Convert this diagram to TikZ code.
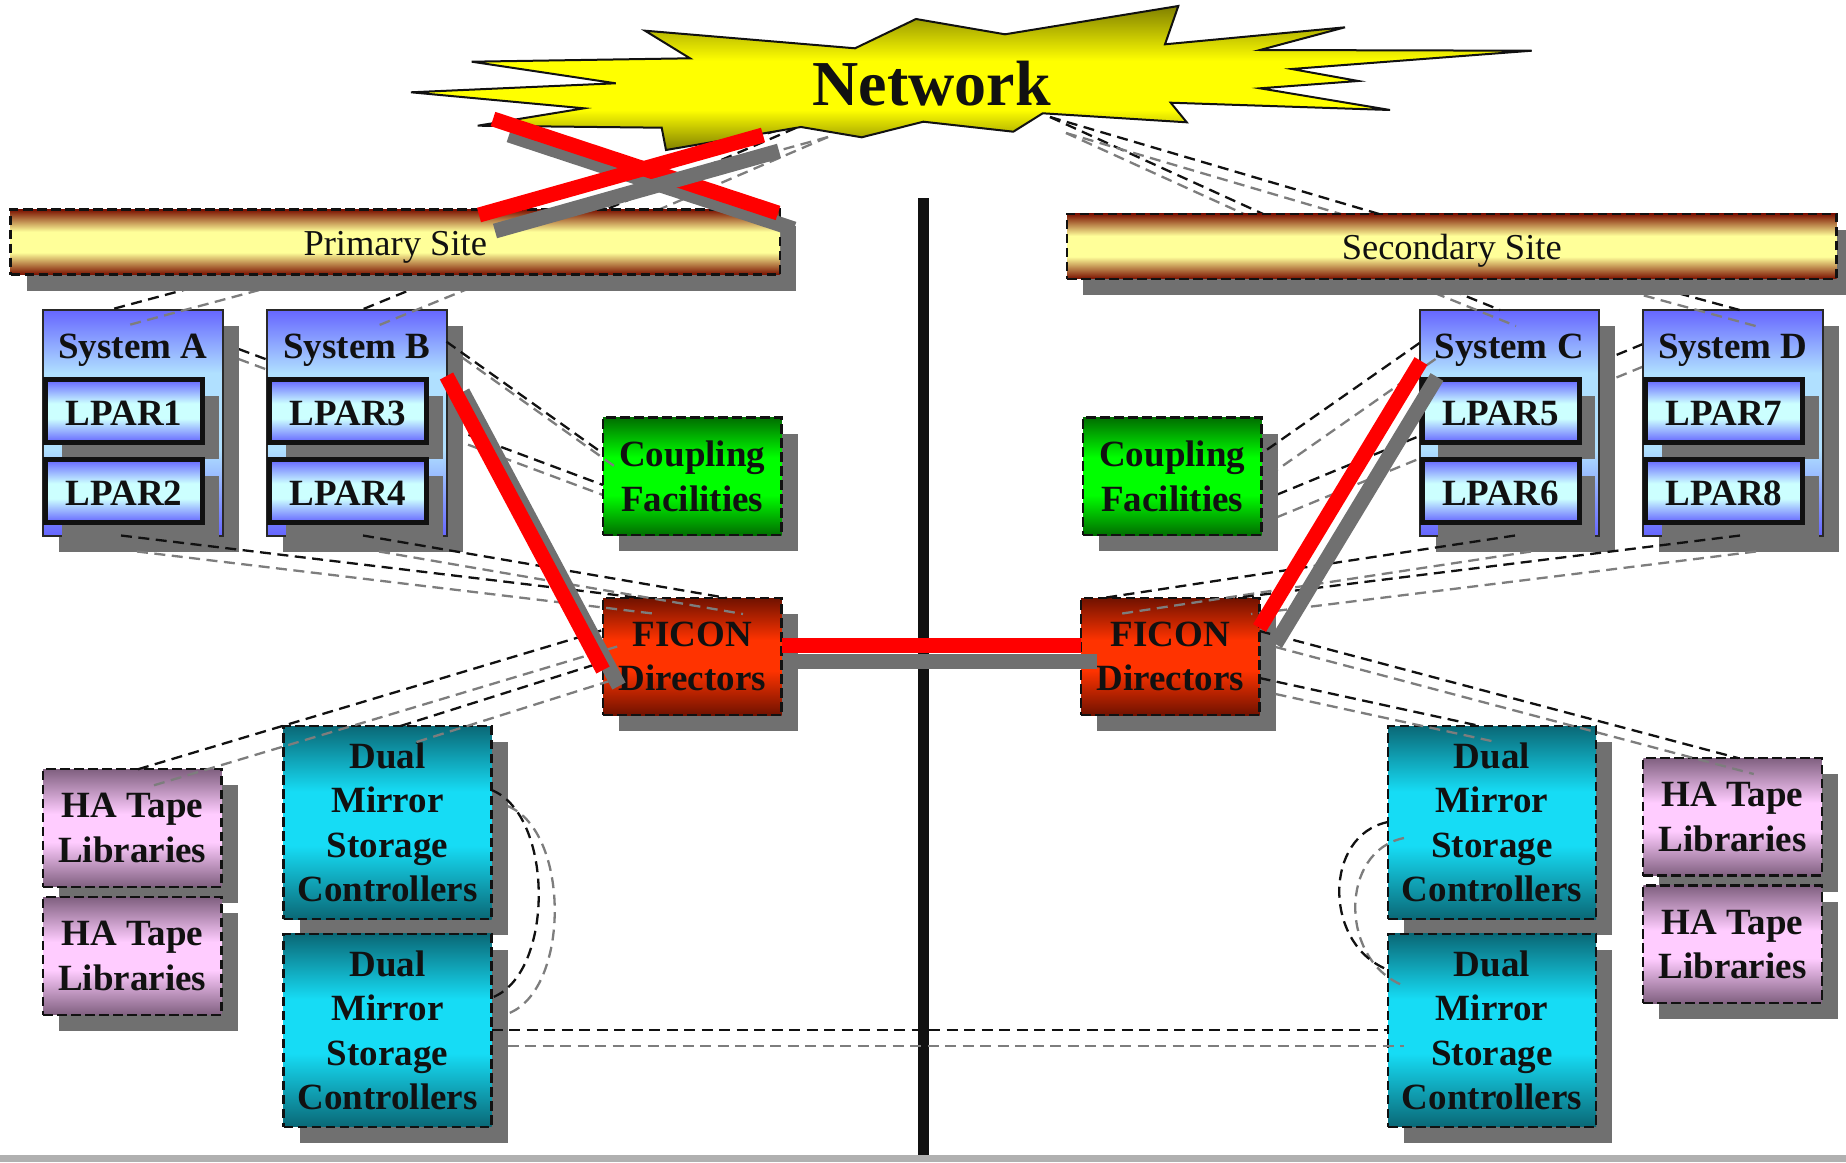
\documentclass[tikz,border=0pt]{standalone}
\usepackage{fontspec}
\setmainfont{Liberation Serif}
\usetikzlibrary{calc,shadows}
\definecolor{sysblue}{RGB}{102,102,255}
\definecolor{syslight}{RGB}{176,224,255}
\definecolor{lparblue}{RGB}{100,100,255}
\definecolor{lparlight}{RGB}{204,255,255}
\definecolor{cfdark}{RGB}{0,110,0}
\definecolor{cfbright}{RGB}{0,255,0}
\definecolor{ficondark}{RGB}{112,18,0}
\definecolor{ficonbright}{RGB}{255,51,0}
\definecolor{dmscdark}{RGB}{10,104,118}
\definecolor{dmscbright}{RGB}{22,220,245}
\definecolor{hadark}{RGB}{128,96,128}
\definecolor{halight}{RGB}{255,204,255}
\definecolor{sitedark}{RGB}{122,16,0}
\definecolor{sitelight}{RGB}{255,255,153}
\definecolor{stardark}{RGB}{128,128,0}
\definecolor{staryellow}{RGB}{255,255,0}
\definecolor{shadowgray}{RGB}{112,112,112}
\definecolor{lgray}{RGB}{125,125,125}
\definecolor{ink}{RGB}{17,17,17}
\definecolor{bandgray}{RGB}{176,176,176}
\pgfdeclareverticalshading{sysshade}{100bp}{color(0bp)=(sysblue); color(25bp)=(sysblue); color(44bp)=(syslight); color(61bp)=(syslight); color(75bp)=(sysblue); color(100bp)=(sysblue)}
\pgfdeclareverticalshading{lparshade}{100bp}{color(0bp)=(lparblue); color(25bp)=(lparblue); color(44bp)=(lparlight); color(56bp)=(lparlight); color(75bp)=(lparblue); color(100bp)=(lparblue)}
\pgfdeclareverticalshading{cfshade}{100bp}{color(0bp)=(cfdark); color(25bp)=(cfdark); color(42bp)=(cfbright); color(58bp)=(cfbright); color(75bp)=(cfdark); color(100bp)=(cfdark)}
\pgfdeclareverticalshading{ficonshade}{100bp}{color(0bp)=(ficondark); color(25bp)=(ficondark); color(44bp)=(ficonbright); color(57bp)=(ficonbright); color(75bp)=(ficondark); color(100bp)=(ficondark)}
\pgfdeclareverticalshading{dmscshade}{100bp}{color(0bp)=(dmscdark); color(25bp)=(dmscdark); color(44bp)=(dmscbright); color(58bp)=(dmscbright); color(75bp)=(dmscdark); color(100bp)=(dmscdark)}
\pgfdeclareverticalshading{hashade}{100bp}{color(0bp)=(hadark); color(25bp)=(hadark); color(44bp)=(halight); color(56bp)=(halight); color(75bp)=(hadark); color(100bp)=(hadark)}
\pgfdeclareverticalshading{siteshade}{100bp}{color(0bp)=(sitedark); color(25bp)=(sitedark); color(42bp)=(sitelight); color(58bp)=(sitelight); color(75bp)=(sitedark); color(100bp)=(sitedark)}
\pgfdeclareverticalshading{starshade}{100bp}{color(0bp)=(stardark); color(25bp)=(stardark); color(39bp)=(staryellow); color(56bp)=(staryellow); color(75bp)=(stardark); color(100bp)=(stardark)}
\pgfdeclarelayer{lnet}
\pgfdeclarelayer{lstar}
\pgfdeclarelayer{lbehind}
\pgfdeclarelayer{lconn}
\pgfdeclarelayer{lsite}
\pgfdeclarelayer{lred}
\pgfdeclarelayer{ltop}
\pgfsetlayers{lnet,lstar,lbehind,main,lconn,lsite,lred,ltop}
\newcommand\myconn[2]{\draw[lshadow] ([shift={(16,16)}]#1) -- ([shift={(16,16)}]#2); \draw[lblack] (#1) -- (#2);}
\newcommand\myredline[2]{\draw[rshadow] ([shift={(16,16)}]#1) -- ([shift={(16,16)}]#2); \draw[rline] (#1) -- (#2);}
\begin{document}
\begin{tikzpicture}[x=1pt,y=-1pt,
  shadowed/.style={drop shadow={shadow xshift=16pt,shadow yshift=-16pt,fill=shadowgray,opacity=1}},
  boldtxt/.style={text=ink,font=\fontsize{37}{44.5}\selectfont\bfseries},
  dbox/.style={shadowed,shade,draw=ink,line width=2.2pt,dash pattern=on 9.5pt off 4.5pt,inner sep=0pt,outer sep=0pt,align=center,boldtxt},
  sysbox/.style={shadowed,shade,shading=sysshade,draw=ink!90,line width=2pt,inner sep=0pt,outer sep=0pt,minimum width=179.5pt,minimum height=225.5pt},
  sysedge/.style={draw=ink!90,line width=2pt},
  lparbox/.style={shadowed,shade,shading=lparshade,draw=ink,line width=5pt,inner sep=0pt,outer sep=0pt,minimum width=157pt,minimum height=63pt,boldtxt,text height=29.5pt,text depth=0pt},
  sitebox/.style={dbox,shading=siteshade,minimum width=769.5pt,minimum height=65pt},
  cfbox/.style={dbox,shading=cfshade,minimum width=178.5pt,minimum height=117.5pt},
  ficonbox/.style={dbox,shading=ficonshade,minimum width=178.5pt,minimum height=117pt},
  dmscbox/.style={dbox,shading=dmscshade,minimum width=208pt,minimum height=193pt},
  habox/.style={dbox,shading=hashade,minimum width=178.5pt,minimum height=117.5pt},
  syslabel/.style={anchor=base,inner sep=0pt,boldtxt},
  sitelabel/.style={anchor=base,inner sep=0pt,text=ink,font=\fontsize{36.5}{40}\selectfont},
  lblack/.style={draw=ink,line width=2.3pt,dash pattern=on 11pt off 6.5pt},
  lshadow/.style={draw=lgray,line width=2.3pt,dash pattern=on 11pt off 6.5pt},
  rline/.style={draw=red,line width=15pt},
  rshadow/.style={draw=shadowgray,line width=15pt}
]
\useasboundingbox (0,0) rectangle (1846,1162);

% ---------- site bars ----------
\begin{pgfonlayer}{lsite}
\node[sitebox] (primary) at (395.25,242) {};
\node[sitebox] (secondary) at (1451.75,246.25) {};
\node[sitelabel] (tPrim) at (395.25,255) {Primary Site};
\node[sitelabel] (tSec) at (1451.75,259.3) {Secondary Site};
\end{pgfonlayer}

% ---------- boxes ----------
\node[sysbox] (sysA) at (132.75,422.75) {};
\node[lparbox] (lpar1) at (124,411) {LPAR1};
\node[lparbox] (lpar2) at (124,491) {LPAR2};
\draw[sysedge] (sysA.north east) -- (sysA.south east);
\node[syslabel] (tA) at (132.75,358.3) {System A};

\node[sysbox] (sysB) at (356.75,422.75) {};
\node[lparbox] (lpar3) at (348,411) {LPAR3};
\node[lparbox] (lpar4) at (348,491) {LPAR4};
\draw[sysedge] (sysB.north east) -- (sysB.south east);
\node[syslabel] (tB) at (356.75,358.3) {System B};

\node[sysbox] (sysC) at (1509.25,422.75) {};
\node[lparbox] (lpar5) at (1500.5,411) {LPAR5};
\node[lparbox] (lpar6) at (1500.5,491) {LPAR6};
\draw[sysedge] (sysC.north east) -- (sysC.south east);
\node[syslabel] (tC) at (1509.25,358.3) {System C};

\node[sysbox] (sysD) at (1732.75,422.75) {};
\node[lparbox] (lpar7) at (1724,411) {LPAR7};
\node[lparbox] (lpar8) at (1724,491) {LPAR8};
\draw[sysedge] (sysD.north east) -- (sysD.south east);
\node[syslabel] (tD) at (1732.75,358.3) {System D};

\node[cfbox] (cfL) at (692.25,476.25) {Coupling\\Facilities};
\node[cfbox] (cfR) at (1172.25,476.25) {Coupling\\Facilities};
\node[ficonbox] (ficonL) at (692.25,656.5) {FICON\\Directors};
\node[ficonbox] (ficonR) at (1170.25,656.5) {FICON\\Directors};

\node[dmscbox] (dmsc1L) at (387.5,822.5) {Dual\\Mirror\\Storage\\Controllers};
\node[dmscbox] (dmsc2L) at (387.5,1030.25) {Dual\\Mirror\\Storage\\Controllers};
\node[dmscbox] (dmsc1R) at (1492,822.5) {Dual\\Mirror\\Storage\\Controllers};
\node[dmscbox] (dmsc2R) at (1492,1030.25) {Dual\\Mirror\\Storage\\Controllers};

\node[habox] (ha1L) at (132.25,828) {HA Tape\\Libraries};
\node[habox] (ha2L) at (132.25,956) {HA Tape\\Libraries};
\node[habox] (ha1R) at (1732.5,816.75) {HA Tape\\Libraries};
\node[habox] (ha2R) at (1732.5,944.25) {HA Tape\\Libraries};

% ---------- network star ----------
\begin{pgfonlayer}{lstar}
\shadedraw[shading=starshade,draw=ink,line width=2pt]
  (411,92.3) -- (615.7,83.3) -- (471.7,61.7) -- (690,58.3) -- (645,30.7) -- (855,48.3)
  -- (916,19) -- (1005,34.3) -- (1178.3,6) -- (1165,44.3) -- (1345,27.3) -- (1260,50)
  -- (1531.7,50.7) -- (1291.7,69) -- (1358.3,81) -- (1260,88.3) -- (1390,110)
  -- (1170.7,102.7) -- (1186.7,122.3) -- (1042.7,113.3) -- (1013.3,131.7) -- (923.3,121.7)
  -- (861.7,137.3) -- (801,127) -- (666,150) -- (661.7,127.7) -- (477.7,125.7) -- (584,108.3) -- cycle;
\node[anchor=base,inner sep=0pt,text=ink,font=\fontsize{64}{70}\selectfont\bfseries] (tNet) at (931.7,105) {Network};
\end{pgfonlayer}

% ---------- coordinates ----------
\coordinate (netL) at (812,121);
\coordinate (netR) at (1050,117);
\coordinate (pN1) at ($(primary.north west)+(588.5,3)$);
\coordinate (pN2) at ($(primary.north west)+(469.5,3)$);
\coordinate (sN1) at ($(secondary.north west)+(200,2)$);
\coordinate (sN2) at ($(secondary.north west)+(318,2)$);

\coordinate (pS1) at ($(primary.south west)+(266.5,-9.5)$);
\coordinate (sA) at ($(sysA.north west)+(66,0)$);
\coordinate (pS2) at ($(primary.south west)+(460.5,-9.5)$);
\coordinate (sB) at ($(sysB.north west)+(94,0)$);
\coordinate (sS1) at ($(secondary.south west)+(335,-8.5)$);
\coordinate (sC) at ($(sysC.north west)+(80.5,0)$);
\coordinate (sS2) at ($(secondary.south west)+(527,-8.5)$);
\coordinate (sD) at ($(sysD.north west)+(96.6,0)$);

\coordinate (aR) at ($(sysA.north east)+(0,33)$);
\coordinate (cfLa) at ($(cfL.north west)+(0,67.5)$);
\coordinate (bR) at ($(sysB.north east)+(0,31.7)$);
\coordinate (cfLb) at ($(cfL.north west)+(0,36)$);
\coordinate (cL) at ($(sysC.north west)+(0,33)$);
\coordinate (cfRc) at ($(cfR.north east)+(0,36)$);
\coordinate (dL) at ($(sysD.north west)+(0,34)$);
\coordinate (cfRd) at ($(cfR.north east)+(0,83.5)$);

\coordinate (aB) at ($(sysA.south west)+(78,0)$);
\coordinate (fLa) at ($(ficonL.north west)+(38,0)$);
\coordinate (bB) at ($(sysB.south west)+(96,0)$);
\coordinate (fLb) at ($(ficonL.north west)+(124,0)$);
\coordinate (cB) at ($(sysC.south west)+(95.5,0)$);
\coordinate (fRc) at ($(ficonR.north west)+(22,0)$);
\coordinate (dB) at ($(sysD.south west)+(97,0)$);
\coordinate (fRd) at ($(ficonR.north west)+(154,0)$);

\coordinate (h1T) at ($(ha1L.north west)+(95,0)$);
\coordinate (fLh) at ($(ficonL.north west)+(0,32)$);
\coordinate (d1T) at ($(dmsc1L.north west)+(117,0)$);
\coordinate (fLd) at ($(ficonL.north west)+(0,64)$);
\coordinate (fRh) at ($(ficonR.north east)+(0,33)$);
\coordinate (h1RT) at ($(ha1R.north west)+(94.5,0)$);
\coordinate (fRm) at ($(ficonR.north east)+(0,80)$);
\coordinate (d1RT) at ($(dmsc1R.north west)+(92,0)$);

\coordinate (dl1) at ($(dmsc1L.north east)+(0,64)$);
\coordinate (dl2) at ($(dmsc2L.north east)+(0,64)$);
\coordinate (dlc1) at ($(dl1)+(63,25)$);
\coordinate (dlc2) at ($(dl2)+(63,-23)$);
\coordinate (dr1) at ($(dmsc1R.north west)+(0,96)$);
\coordinate (dr2) at ($(dmsc2R.north west)+(0,36)$);
\coordinate (drc1) at ($(dr1)+(-65,13)$);
\coordinate (drc2) at ($(dr2)+(-65,-25)$);
\coordinate (dh1) at ($(dmsc2L.north east)+(0,96.5)$);
\coordinate (dh2) at ($(dmsc2R.north west)+(0,96.5)$);

\coordinate (x1a) at (493,119);
\coordinate (x1b) at (778,213);
\coordinate (x2a) at (479,215);
\coordinate (x2b) at (763,135);
\coordinate (rB) at ($(sysB.north east)+(0,66)$);
\coordinate (rFL) at ($(ficonL.north west)+(0,72)$);
\coordinate (rC) at ($(sysC.north west)+(1.5,51)$);
\coordinate (rFR) at ($(ficonR.north east)+(0,30)$);
\coordinate (rh1) at ($(ficonL.east)+(0,-10.7)$);
\coordinate (rh2) at ($(ficonR.west)+(0,-10.7)$);
\coordinate (vTop) at (923,198);
\coordinate (vBot) at (923,1162);

% ---------- connectors ----------
\begin{pgfonlayer}{lnet}
\myconn{netL}{pN1}
\myconn{netL}{pN2}
\myconn{netR}{sN1}
\myconn{netR}{sN2}
\end{pgfonlayer}

\begin{pgfonlayer}{lbehind}
\draw[draw=ink,line width=11pt] (vTop) -- (vBot);
\myconn{aR}{cfLa}
\myconn{dL}{cfRd}
\end{pgfonlayer}

\begin{pgfonlayer}{lconn}
\myconn{pS1}{sA}
\myconn{pS2}{sB}
\myconn{sS1}{sC}
\myconn{sS2}{sD}
\myconn{bR}{cfLb}
\myconn{cL}{cfRc}
\myconn{aB}{fLa}
\myconn{bB}{fLb}
\myconn{cB}{fRc}
\myconn{dB}{fRd}
\myconn{h1T}{fLh}
\myconn{d1T}{fLd}
\myconn{fRh}{h1RT}
\myconn{fRm}{d1RT}
\draw[lshadow] ([shift={(16,16)}]dl1) .. controls ([shift={(16,16)}]dlc1) and ([shift={(16,16)}]dlc2) .. ([shift={(16,16)}]dl2);
\draw[lblack] (dl1) .. controls (dlc1) and (dlc2) .. (dl2);
\draw[lshadow] ([shift={(16,16)}]dr1) .. controls ([shift={(16,16)}]drc1) and ([shift={(16,16)}]drc2) .. ([shift={(16,16)}]dr2);
\draw[lblack] (dr1) .. controls (drc1) and (drc2) .. (dr2);
\myconn{dh1}{dh2}
\end{pgfonlayer}

% ---------- red links ----------
\begin{pgfonlayer}{lred}
\myredline{x1a}{x1b}
\myredline{x2a}{x2b}
\myredline{rB}{rFL}
\myredline{rC}{rFR}
\myredline{rh1}{rh2}
\end{pgfonlayer}

\begin{pgfonlayer}{ltop}
\fill[bandgray] (0,1155) rectangle (1846,1162);
\end{pgfonlayer}
\end{tikzpicture}
\end{document}
